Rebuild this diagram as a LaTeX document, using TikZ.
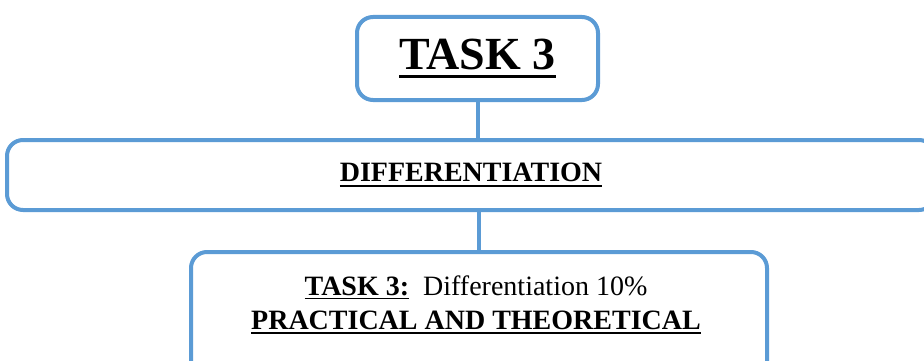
\documentclass[tikz,border=0pt]{standalone}
\usepackage{fontspec}
\setmainfont{Liberation Serif}
\definecolor{boxblue}{RGB}{91,155,213}
% underline with own depth and thickness
\newcommand{\ulined}[3]{\setbox0=\hbox{#3}\rlap{\rule[-#1]{\wd0}{#2}}\box0}

\begin{document}
\begin{tikzpicture}[x=1pt,y=1pt,
    taskbox/.style ={draw=boxblue, line width=4pt, rounded corners=16pt, fill=white},
    link/.style ={draw=boxblue, line width=4pt}]
   \useasboundingbox (0,0) rectangle (924,-361);
   \clip (0,0) rectangle (924,-361);

   \node[taskbox, minimum width=241, minimum height=83,
         font=\fontsize{46}{50}\selectfont\bfseries] (title) at (477.5,-58.5)
        {\ulined{8pt}{2.5pt}{TASK 3}};
   \node[taskbox, minimum width=928, minimum height=70,
         font=\fontsize{28}{32}\selectfont\bfseries] (diff) at (471,-175)
        {\ulined{5pt}{2pt}{DIFFERENTIATION}};
   \node[taskbox, minimum width=576, minimum height=140, anchor=north] (detail) at (479,-250) {};
   \node[align=center, font=\fontsize{28}{34}\selectfont] (detailtext) at (476,-305)
        {\ulined{4pt}{1.6pt}{\bfseries TASK 3:}\ \ Differentiation 10\%\\
         \ulined{5pt}{2pt}{\bfseries PRACTICAL AND THEORETICAL}};

   \draw[link] (title.south) -- (title.south |- diff.north);
   \draw[link] (detail.north |- diff.south) -- (detail.north);
\end{tikzpicture}
\end{document}
